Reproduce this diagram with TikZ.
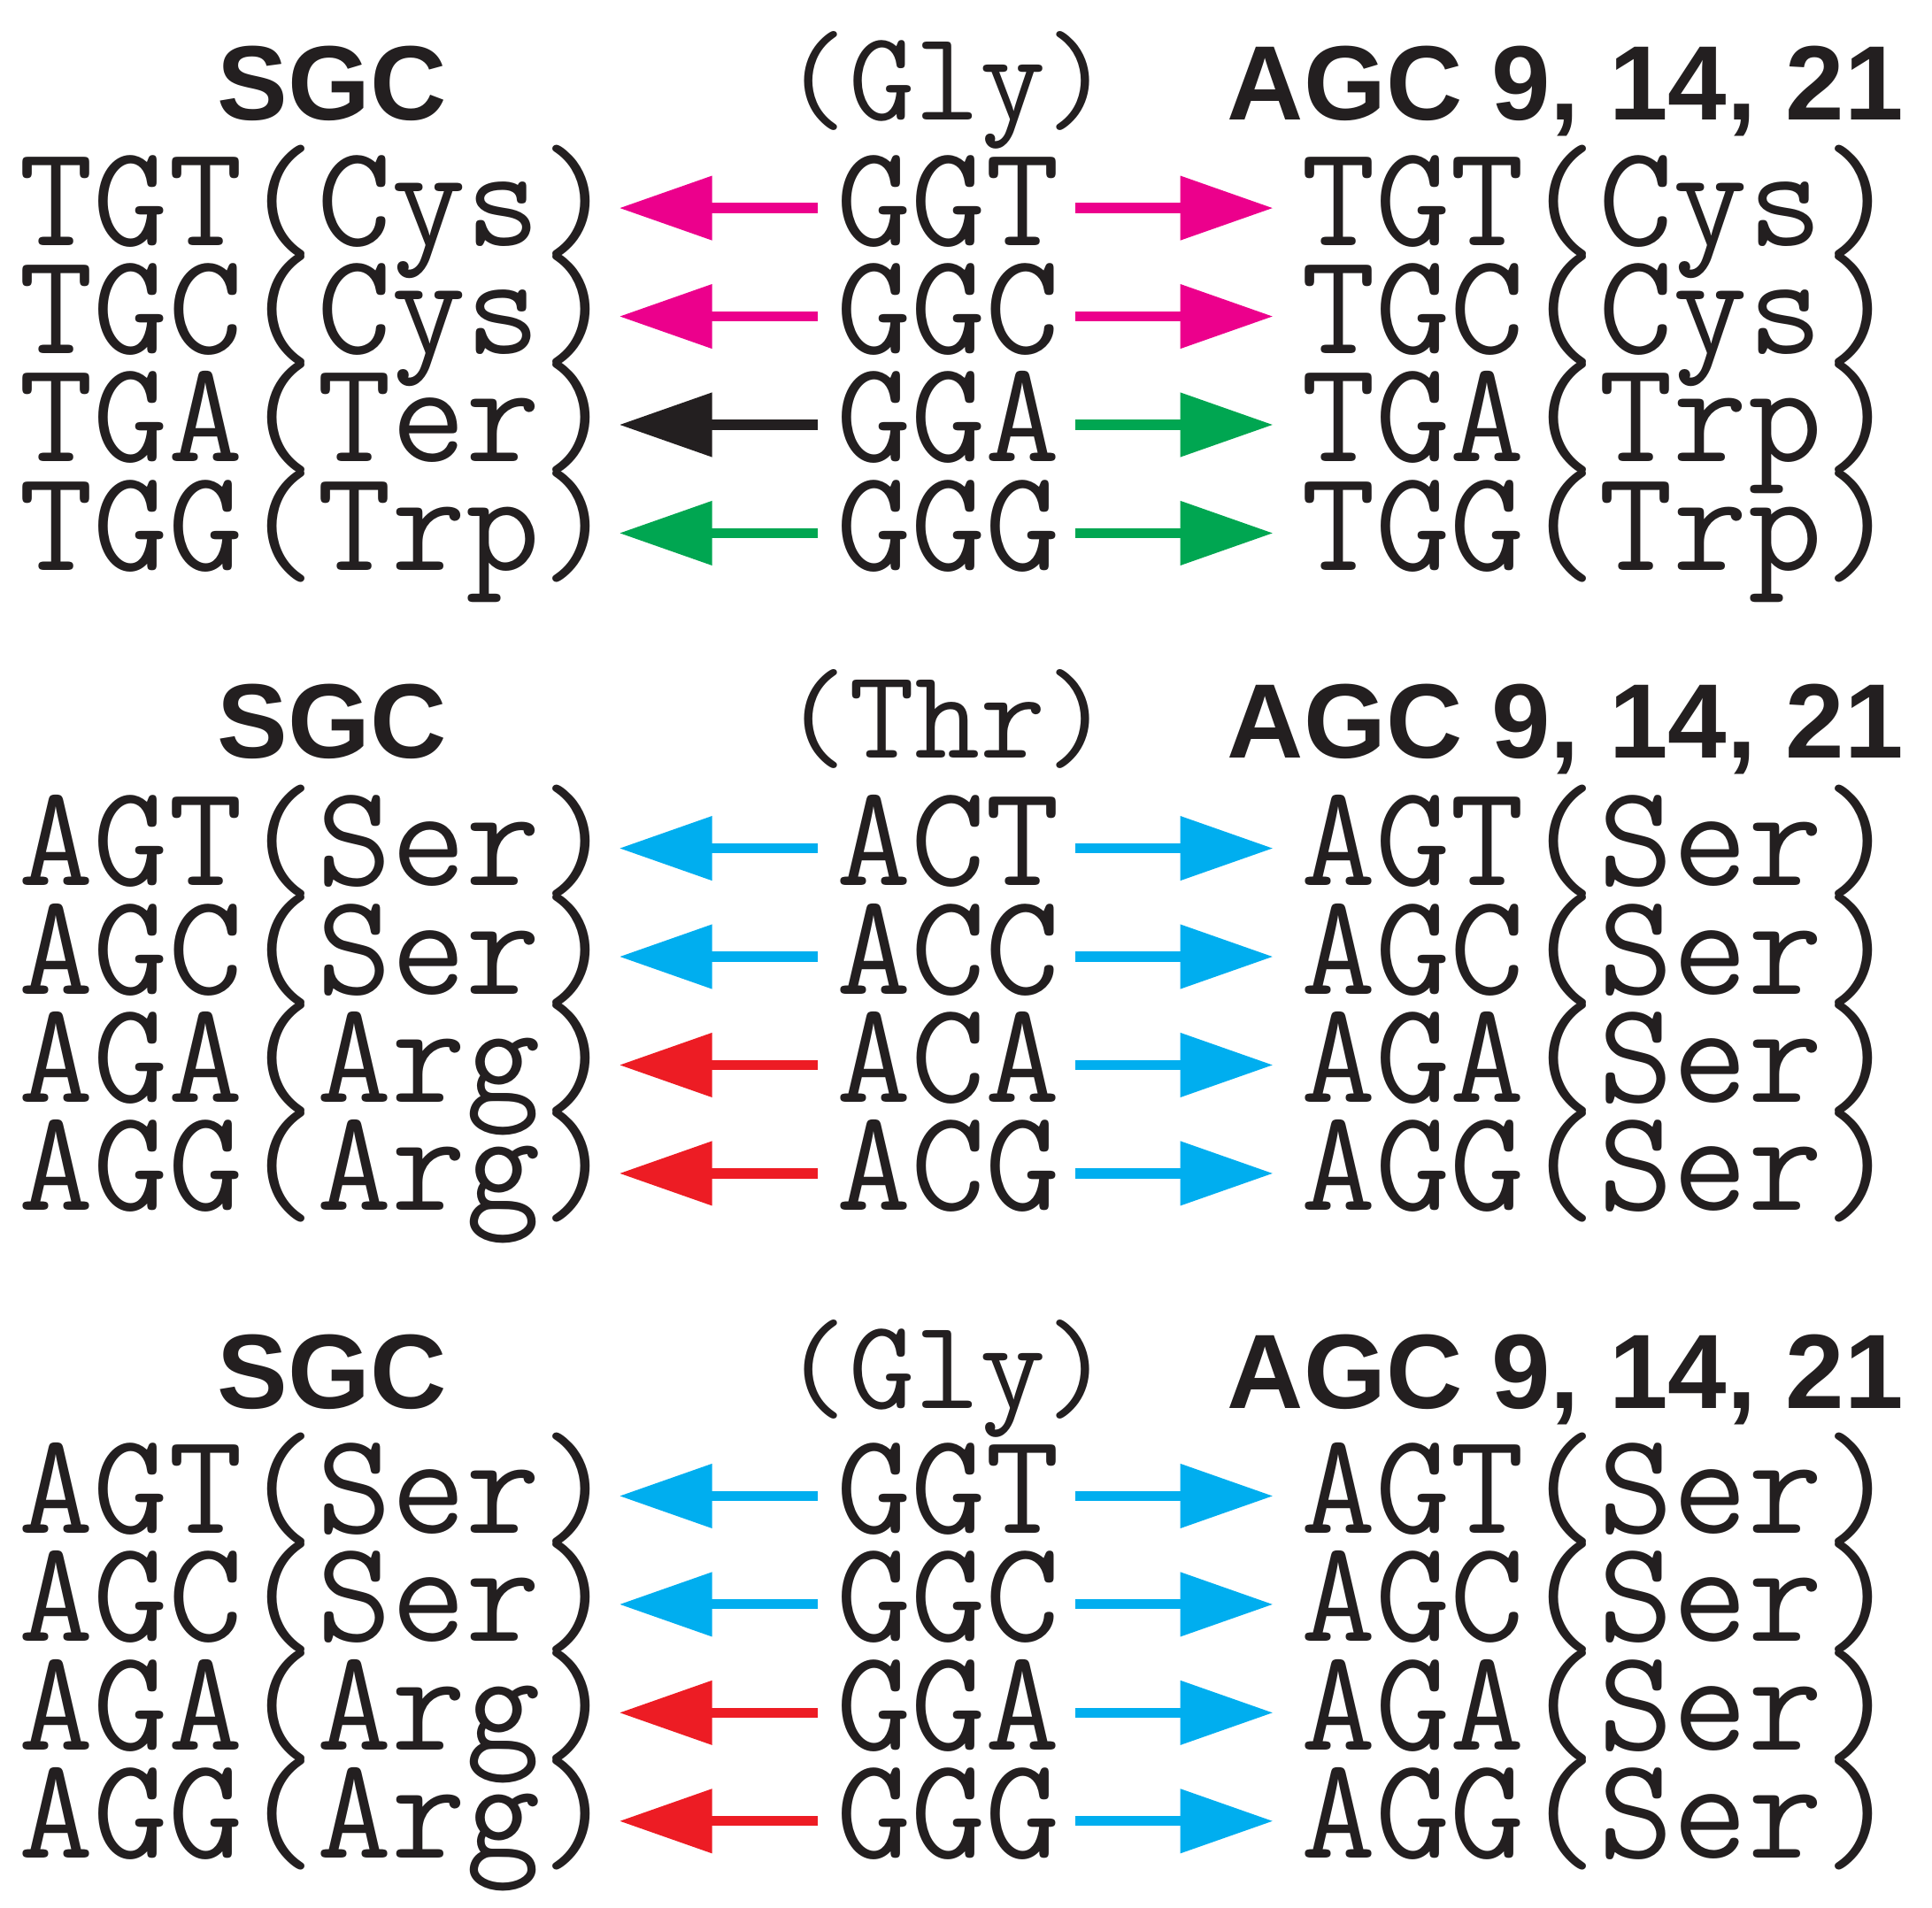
\documentclass[tikz,border=0pt]{standalone}
\usepackage{fontspec}
\setmainfont{Liberation Sans}
\usetikzlibrary{arrows.meta,calc}
\definecolor{cmag}{HTML}{EC008C}
\definecolor{cgrn}{HTML}{00A651}
\definecolor{ccyn}{HTML}{00AEEF}
\definecolor{cred}{HTML}{ED1C24}
\definecolor{cblk}{HTML}{231F20}
\tikzset{
 cod/.style={inner sep=0pt,anchor=base west,font=\ttfamily\fontsize{46.5}{40}\selectfont,text=cblk},
 aa/.style={inner sep=0pt,anchor=base,font=\ttfamily\fontsize{41}{40}\selectfont,text=cblk},
 hdr/.style={inner sep=0pt,anchor=base,font=\bfseries\fontsize{34}{35}\selectfont,text=cblk},
 arr/.style={line width=8*0.013994cm,-{Triangle[length=75*0.013994cm,width=50*0.013994cm]}},
}
\begin{document}
\begin{tikzpicture}[x=0.013994cm,y=-0.013994cm]
\useasboundingbox (0,0) rectangle (1560,1540);
\newcommand{\blk}[5]{%
 \node[hdr] (#1h1) at (268,#2) {SGC};
 \node[aa] (#1h2) at (765,#2) {#3};
 \node[hdr] (#1h3) at (1264,#2) {AGC 9, 14, 21};
 \foreach \L/\C/\R/\cl/\cr [count=\i from 0] in {#5}{
   \pgfmathsetmacro{\yy}{#4+\i*87.5}
   \node[cod] (#1l\i) at (15,\yy) {\L};
   \node[cod] (#1c\i) at (675,\yy) {\C};
   \node[cod] (#1r\i) at (1050,\yy) {\R};
   \draw[arr,\cl] ($(#1c\i.base west)+(-15,-30)$) -- ($(#1l\i.base west)+(485,-30)$);
   \draw[arr,\cr] ($(#1c\i.base west)+(193,-30)$) -- ($(#1r\i.base west)+(-22,-30)$);
 }}
\blk{a}{97}{(Gly)}{198}{TGT(Cys)/GGT/TGT(Cys)/cmag/cmag, TGC(Cys)/GGC/TGC(Cys)/cmag/cmag, TGA(Ter)/GGA/TGA(Trp)/cblk/cgrn, TGG(Trp)/GGG/TGG(Trp)/cgrn/cgrn}
\blk{b}{612}{(Thr)}{715}{AGT(Ser)/ACT/AGT(Ser)/ccyn/ccyn, AGC(Ser)/ACC/AGC(Ser)/ccyn/ccyn, AGA(Arg)/ACA/AGA(Ser)/cred/ccyn, AGG(Arg)/ACG/AGG(Ser)/cred/ccyn}
\blk{c}{1137}{(Gly)}{1238}{AGT(Ser)/GGT/AGT(Ser)/ccyn/ccyn, AGC(Ser)/GGC/AGC(Ser)/ccyn/ccyn, AGA(Arg)/GGA/AGA(Ser)/cred/ccyn, AGG(Arg)/GGG/AGG(Ser)/cred/ccyn}
\end{tikzpicture}
\end{document}
